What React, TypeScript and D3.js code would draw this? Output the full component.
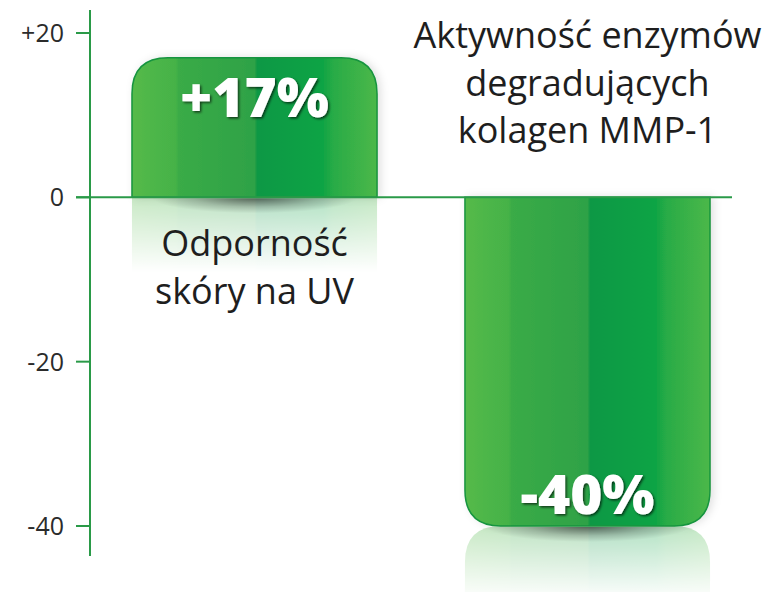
import React from "react";
import * as d3 from "d3";

// chart data
const categories = ["uv", "mmp1"];
const values = [17, -40];
const valueLabels = ["+17%", "-40%"];
const categoryLines = [
  ["Odporność", "skóry na UV"],
  ["Aktywność enzymów", "degradujących", "kolagen MMP-1"],
];
const tickValues = [20, 0, -20, -40];
const tickLabels = ["+20", "0", "-20", "-40"];

const W = 780,
  H = 592;
const axisX = 90;
const green = "#2a9a48";
const font = "'Open Sans', 'Noto Sans', sans-serif";

const x = d3
  .scaleBand<string>()
  .domain(categories)
  .range([110, 732])
  .paddingInner(0.264)
  .paddingOuter(0.066);

const y = d3.scaleLinear().domain([-40, 20]).range([526, 33]);

// bar path with rounded corners on the far end
function barPath(x0: number, w: number, y0: number, y1: number, r: number) {
  const p = d3.path();
  const dir = y1 < y0 ? -1 : 1;
  p.moveTo(x0, y0);
  p.lineTo(x0, y1 - dir * r);
  p.quadraticCurveTo(x0, y1, x0 + r, y1);
  p.lineTo(x0 + w - r, y1);
  p.quadraticCurveTo(x0 + w, y1, x0 + w, y1 - dir * r);
  p.lineTo(x0 + w, y0);
  p.closePath();
  return p.toString();
}

export default function App() {
  const bw = x.bandwidth();
  const y0 = y(0);
  const r = 36;
  return (
    <svg
      width={W}
      height={H}
      style={{ position: "absolute", left: 0, top: 0, background: "#fff" }}
    >
      <defs>
        <linearGradient id="barGrad" x1="0" x2="1" y1="0" y2="0">
          <stop offset="0%" stopColor="#55ba4a" />
          <stop offset="18%" stopColor="#45b247" />
          <stop offset="19%" stopColor="#3aab46" />
          <stop offset="50%" stopColor="#2ea246" />
          <stop offset="51%" stopColor="#0d9844" />
          <stop offset="78%" stopColor="#0fa444" />
          <stop offset="82%" stopColor="#28ab46" />
          <stop offset="100%" stopColor="#4cb849" />
        </linearGradient>
        <radialGradient id="shadowGrad" cx="50%" cy="50%" r="50%">
          <stop offset="0%" stopColor="#000" stopOpacity={0.55} />
          <stop offset="60%" stopColor="#000" stopOpacity={0.18} />
          <stop offset="100%" stopColor="#000" stopOpacity={0} />
        </radialGradient>
        <filter id="txtShadow" x="-10%" y="-10%" width="130%" height="130%">
          <feDropShadow dx="1.5" dy="1.5" stdDeviation="0.8" floodColor="#000" floodOpacity="0.65" />
        </filter>
        <filter id="barShadow" x="-20%" y="-20%" width="140%" height="140%">
          <feDropShadow dx="3" dy="0" stdDeviation="4" floodColor="#000" floodOpacity="0.12" />
        </filter>
        {values.map((v, i) => {
          const start = v >= 0 ? y0 : y(v);
          return (
            <linearGradient
              key={i}
              id={"fade" + i}
              gradientUnits="userSpaceOnUse"
              x1="0"
              x2="0"
              y1={start}
              y2={start + 75}
            >
              <stop offset="0%" stopColor="#fff" stopOpacity={0.32} />
              <stop offset="100%" stopColor="#fff" stopOpacity={0} />
            </linearGradient>
          );
        })}
        {values.map((v, i) => (
          <mask key={i} id={"mask" + i} maskUnits="userSpaceOnUse" x="0" y="0" width={W} height={H}>
            <rect x="0" y="0" width={W} height={H} fill={`url(#fade${i})`} />
          </mask>
        ))}
      </defs>

      {/* reflections */}
      {values.map((v, i) => {
        const cx = x(categories[i])!;
        const start = v >= 0 ? y0 : y(v);
        const d =
          v >= 0
            ? barPath(cx, bw, start + 200, start, 0)
            : barPath(cx, bw, start + 200, start, r);
        return <path key={i} d={d} fill="url(#barGrad)" mask={`url(#mask${i})`} />;
      })}

      {/* bars */}
      {values.map((v, i) => {
        const cx = x(categories[i])!;
        return (
          <path
            key={i}
            d={barPath(cx, bw, y0, y(v), r)}
            fill="url(#barGrad)"
            stroke="#17943f"
            strokeWidth={1.5}
            filter="url(#barShadow)"
          />
        );
      })}

      {/* contact shadows */}
      {values.map((v, i) => {
        const cx = x(categories[i])! + bw / 2;
        const edge = v >= 0 ? y0 : y(v);
        return (
          <g key={i}>
            <clipPath id={"clip" + i}>
              <rect x={0} y={edge + 1} width={W} height={40} />
            </clipPath>
            <ellipse
              cx={cx}
              cy={edge}
              rx={bw * 0.42}
              ry={16}
              fill="url(#shadowGrad)"
              clipPath={`url(#clip${i})`}
            />
          </g>
        );
      })}

      {/* axis */}
      <line x1={axisX} x2={axisX} y1={10} y2={556} stroke={green} strokeWidth={2} />
      <line x1={76} x2={732} y1={y0} y2={y0} stroke={green} strokeWidth={2} />
      {tickValues.map((t, i) => (
        <g key={t}>
          <line x1={76} x2={axisX} y1={y(t)} y2={y(t)} stroke={green} strokeWidth={2} />
          <text
            x={64}
            y={y(t)}
            dy="0.36em"
            textAnchor="end"
            fontFamily={font}
            fontSize={25}
            fill="#2b2b2b"
          >
            {tickLabels[i]}
          </text>
        </g>
      ))}

      {/* value labels */}
      {values.map((v, i) => {
        const cx = x(categories[i])! + bw / 2;
        const ty = v >= 0 ? y(v) + 59 : y(v) - 12;
        return (
          <text
            key={i}
            x={cx}
            y={ty}
            textAnchor="middle"
            fontFamily={font}
            fontWeight={800}
            fontSize={55}
            fill="#fff"
            filter="url(#txtShadow)"
          >
            {valueLabels[i]}
          </text>
        );
      })}

      {/* category labels */}
      {categoryLines.map((lines, i) => {
        const cx = x(categories[i])! + bw / 2;
        const startY = values[i] >= 0 ? y0 + 59 : 48;
        return (
          <text
            key={i}
            x={cx}
            textAnchor="middle"
            fontFamily={font}
            fontSize={36}
            fill="#1e1e1e"
          >
            {lines.map((l, j) => (
              <tspan key={j} x={cx} y={startY + j * 47.5}>
                {l}
              </tspan>
            ))}
          </text>
        );
      })}
    </svg>
  );
}
